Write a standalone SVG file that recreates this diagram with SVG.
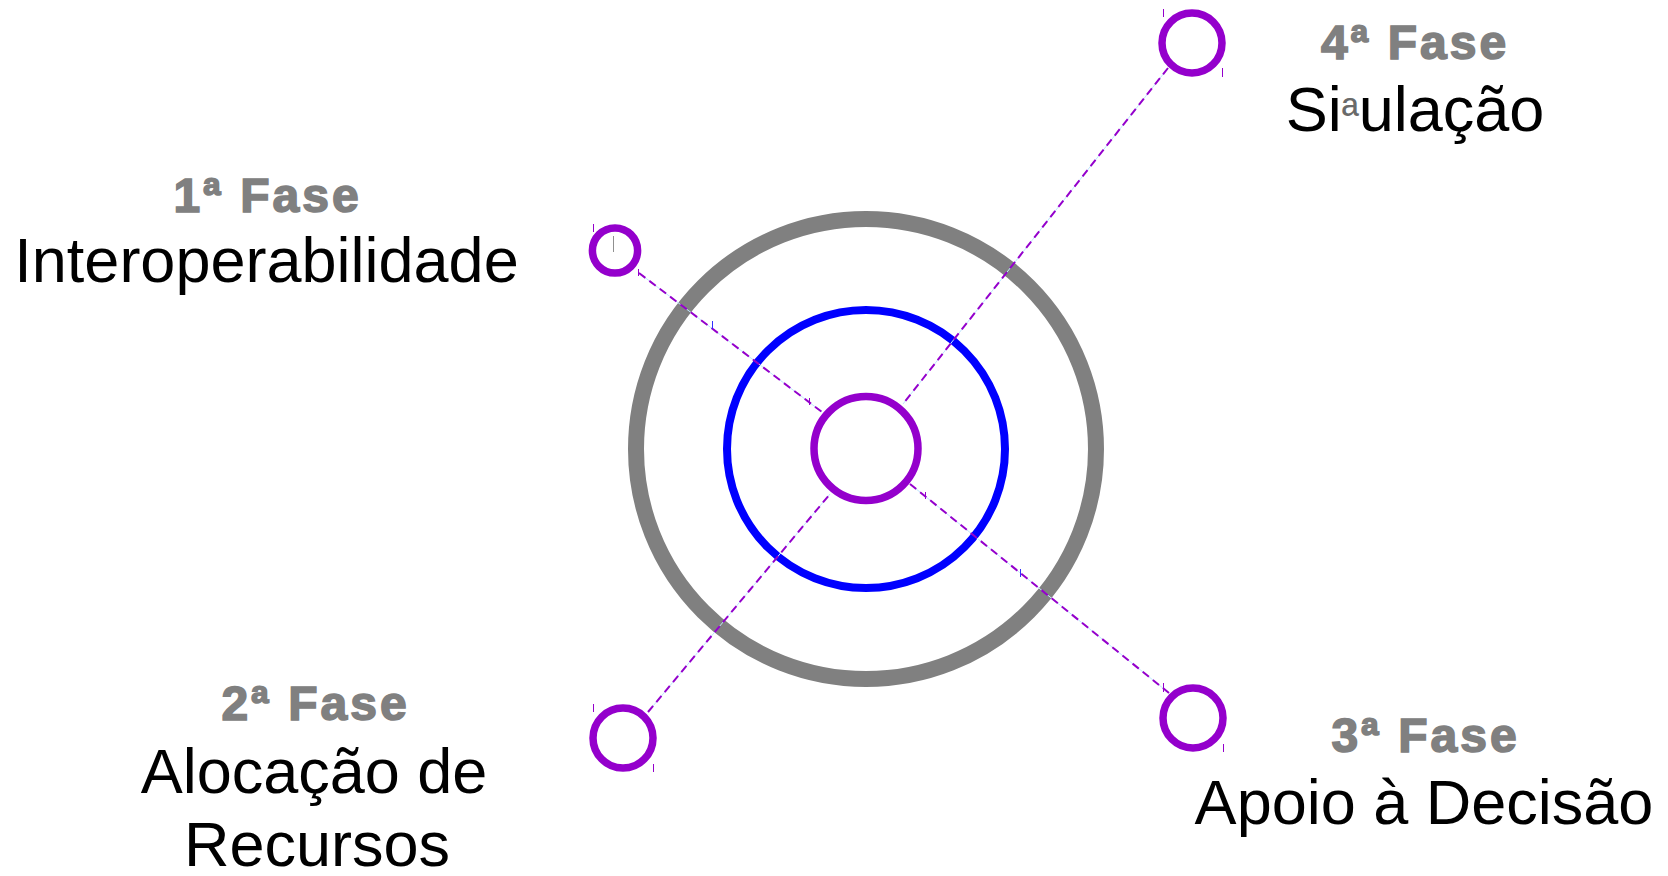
<svg xmlns="http://www.w3.org/2000/svg" width="1668" height="876" viewBox="0 0 1668 876">
<style>
.ring{fill:none}
.node{fill:none;stroke:#9400CC;stroke-width:7.5}
.guide{stroke:#BFE6FF;stroke-width:1;fill:none}
.dash{stroke:#9400CC;stroke-width:2;stroke-dasharray:8 5;fill:none}
.tick{stroke:#9400CC;stroke-width:1}
.tickb{stroke:#3030FF;stroke-width:1}
.tickg{stroke:#909090;stroke-width:1}
.phase{font-family:"Liberation Sans",Arial,sans-serif;font-weight:bold;font-size:48px;fill:#808080;stroke:#808080;stroke-width:1.6;letter-spacing:3px;text-anchor:middle}
.name{font-family:"Liberation Sans",Arial,sans-serif;font-size:63px;fill:#000;text-anchor:middle}
</style>
<rect width="1668" height="876" fill="#fff"/>
<g id="rings">
<circle class="ring" cx="866" cy="449" r="230" stroke="#808080" stroke-width="16"/>
<circle class="ring" cx="866" cy="449" r="139" stroke="#0000FF" stroke-width="8"/>
</g>
<g id="connectors">
<line class="guide" x1="639" y1="273" x2="822" y2="412"/>
<line class="dash" x1="639" y1="273" x2="822" y2="412"/>
<line class="guide" x1="1168" y1="68" x2="903" y2="404"/>
<line class="dash" x1="1168" y1="68" x2="903" y2="404"/>
<line class="guide" x1="648" y1="712" x2="830" y2="494"/>
<line class="dash" x1="648" y1="712" x2="830" y2="494"/>
<line class="guide" x1="910" y1="484" x2="1169" y2="693"/>
<line class="dash" x1="910" y1="484" x2="1169" y2="693"/>
<line class="tickb" x1="712.5" y1="321" x2="712.5" y2="329"/>
<line class="tick" x1="809.5" y1="398" x2="809.5" y2="405"/>
<line class="tick" x1="925.5" y1="492" x2="925.5" y2="499"/>
<line class="tickb" x1="1020.5" y1="569" x2="1020.5" y2="577"/>
</g>
<g id="center">
<circle class="node" cx="866" cy="448.5" r="52"/>
</g>
<g id="phase1">
<circle class="node" cx="615" cy="250.5" r="22.6"/>
<line class="tick" x1="593.5" y1="224" x2="593.5" y2="232"/>
<line class="tickg" x1="613.5" y1="236" x2="613.5" y2="252"/>
<line class="tick" x1="638.5" y1="269" x2="638.5" y2="276"/>
<text class="phase" x="267.5" y="212">1ª Fase</text>
<text class="name" x="266.5" y="282">Interoperabilidade</text>
</g>
<g id="phase2">
<circle class="node" cx="623" cy="738" r="30"/>
<line class="tick" x1="593.5" y1="704" x2="593.5" y2="712"/>
<line class="tick" x1="653.5" y1="764" x2="653.5" y2="772"/>
<text class="phase" x="315.5" y="720">2ª Fase</text>
<text class="name" x="314" y="793">Alocação de</text>
<text class="name" x="317" y="866">Recursos</text>
</g>
<g id="phase3">
<circle class="node" cx="1193" cy="718" r="30"/>
<line class="tick" x1="1163.5" y1="683" x2="1163.5" y2="692"/>
<line class="tick" x1="1223.5" y1="744" x2="1223.5" y2="752"/>
<text class="phase" x="1425.5" y="752">3ª Fase</text>
<text class="name" x="1424" y="824">Apoio à Decisão</text>
</g>
<g id="phase4">
<circle class="node" cx="1192" cy="43" r="30"/>
<line class="tick" x1="1163.5" y1="9" x2="1163.5" y2="17"/>
<line class="tick" x1="1222.5" y1="68" x2="1222.5" y2="77"/>
<text class="phase" x="1415" y="59">4ª Fase</text>
<text class="name" x="1415" y="131">Si<tspan font-size="46" fill="#6A6A6A">ª</tspan>ulação</text>
</g>
</svg>
